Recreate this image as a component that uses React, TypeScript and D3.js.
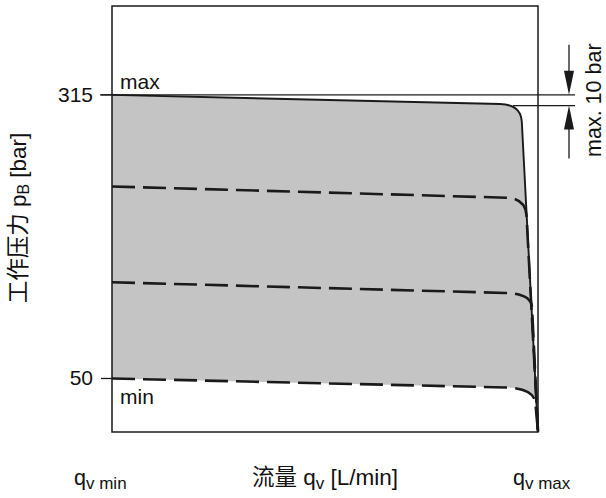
import React from "react";
import * as d3 from "d3";

// Pump characteristic: working pressure vs. flow, with the pressure-setting range
const WIDTH = 606;
const HEIGHT = 498;

// Flow axis runs from q_v min (0) to q_v max (100), pressure in bar
const flowDomain = [0, 100];
const pressureDomain = [0, 398];

const tickValues = [315, 50];
const tickLabels = ["315", "50"];

// Characteristic curves: top (max) setting, two intermediate settings, bottom (min) setting
const curveNames = ["max", "mid-high", "mid-low", "min"];
const curveDashed = [false, true, true, true];
const startPressure = [315, 229.4, 139.9, 50];
const kneeStartFlow = [91.1, 92.5, 92.3, 92.5];
const kneeStartPressure = [306.4, 218.9, 129.9, 41.6];
const cornerFlow = [96.0, 97.0, 98.4, 99.2];
const cornerPressure = [305.9, 218.4, 129.3, 40.8];
const kneeEndFlow = [96.2, 97.3, 98.6, 99.4];
const kneeEndPressure = [289.6, 202.5, 116.5, 26.5];
const endFlow = 100;
const endPressure = 0;

// Pressure drop annotation
const dropTop = 315;
const dropAmount = 10;
const dropLabel = "max. 10 bar";

const FONT = "'Liberation Sans', Arial, Helvetica, 'Noto Sans CJK SC', sans-serif";

export default function App() {
  const margin = { left: 112, right: 68, top: 6, bottom: 66 };
  const x = d3.scaleLinear().domain(flowDomain).range([margin.left, WIDTH - margin.right]);
  const y = d3.scaleLinear().domain(pressureDomain).range([HEIGHT - margin.bottom, margin.top]);

  const x0 = x(flowDomain[0]);
  const x1 = x(flowDomain[1]);
  const yTop = y(pressureDomain[1]);
  const yBot = y(pressureDomain[0]);

  const curvePath = (i: number) => {
    const p = d3.path();
    p.moveTo(x(0), y(startPressure[i]));
    p.lineTo(x(kneeStartFlow[i]), y(kneeStartPressure[i]));
    p.quadraticCurveTo(x(cornerFlow[i]), y(cornerPressure[i]), x(kneeEndFlow[i]), y(kneeEndPressure[i]));
    p.lineTo(x(endFlow), y(endPressure));
    return p.toString();
  };

  // Operating area between the max and min curves
  const areaPath = (() => {
    const top = 0;
    const bot = curveNames.length - 1;
    const p = d3.path();
    p.moveTo(x(0), y(startPressure[top]));
    p.lineTo(x(kneeStartFlow[top]), y(kneeStartPressure[top]));
    p.quadraticCurveTo(x(cornerFlow[top]), y(cornerPressure[top]), x(kneeEndFlow[top]), y(kneeEndPressure[top]));
    p.lineTo(x(endFlow), y(endPressure));
    p.lineTo(x(kneeEndFlow[bot]), y(kneeEndPressure[bot]));
    p.quadraticCurveTo(x(cornerFlow[bot]), y(cornerPressure[bot]), x(kneeStartFlow[bot]), y(kneeStartPressure[bot]));
    p.lineTo(x(0), y(startPressure[bot]));
    p.closePath();
    return p.toString();
  })();

  const yDropTop = y(dropTop);
  const yDropBot = y(dropTop - dropAmount);
  const arrowX = 569;
  const refEnd = 575;
  const headLen = 24;
  const headHalf = 5;

  const ink = "#1a1a1a";

  return (
    <svg
      width={WIDTH}
      height={HEIGHT}
      style={{ position: "absolute", left: 0, top: 0, background: "#fff" }}
      fontFamily={FONT}
    >
      <path d={areaPath} fill="#c4c4c4" stroke="none" />

      {/* reference lines for the pressure drop */}
      <line x1={x0 - 12} x2={refEnd} y1={yDropTop} y2={yDropTop} stroke={ink} strokeWidth={1.3} />
      <line x1={x(kneeStartFlow[0]) + 13} x2={refEnd} y1={yDropBot} y2={yDropBot} stroke={ink} strokeWidth={1.3} />

      {curveNames.map((name, i) => (
        <path
          key={name}
          d={curvePath(i)}
          fill="none"
          stroke={ink}
          strokeWidth={curveDashed[i] ? 2.6 : 1.9}
          strokeDasharray={curveDashed[i] ? "23 8" : undefined}
          strokeLinejoin="round"
        />
      ))}

      <rect x={x0} y={yTop} width={x1 - x0} height={yBot - yTop} fill="none" stroke={ink} strokeWidth={1.5} />

      {/* pressure ticks */}
      {tickValues.map((v, i) => (
        <g key={v}>
          <line x1={x0 - 11} x2={x0} y1={y(v)} y2={y(v)} stroke={ink} strokeWidth={1.3} />
          <text x={x0 - 19} y={y(v) + 7} textAnchor="end" fontSize={21} fill="#111">
            {tickLabels[i]}
          </text>
        </g>
      ))}

      <text x={x0 + 8} y={y(startPressure[0]) - 6} fontSize={21} fill="#111">max</text>
      <text x={x0 + 8} y={y(startPressure[curveNames.length - 1]) + 26} fontSize={21} fill="#111">min</text>

      {/* double arrow marking the pressure drop */}
      <line x1={arrowX} x2={arrowX} y1={yDropTop - 50} y2={yDropTop - headLen + 2} stroke={ink} strokeWidth={1.3} />
      <path
        d={`M${arrowX - headHalf},${yDropTop - headLen}L${arrowX + headHalf},${yDropTop - headLen}L${arrowX},${yDropTop}Z`}
        fill={ink}
      />
      <line x1={arrowX} x2={arrowX} y1={yDropBot + headLen - 2} y2={yDropBot + 53} stroke={ink} strokeWidth={1.3} />
      <path
        d={`M${arrowX - headHalf},${yDropBot + headLen}L${arrowX + headHalf},${yDropBot + headLen}L${arrowX},${yDropBot}Z`}
        fill={ink}
      />
      <text
        transform={`translate(601, ${(yDropTop + yDropBot) / 2}) rotate(-90)`}
        textAnchor="middle"
        fontSize={21.5}
        fill="#111"
      >
        {dropLabel}
      </text>

      {/* axis titles */}
      <text transform={`translate(26, 218) rotate(-90)`} textAnchor="middle" fontSize={22.5} fill="#111">
        工作压力 p<tspan fontSize={16} dy={3}>B</tspan>
        <tspan dy={-3}> [bar]</tspan>
      </text>

      <text x={(x0 + x1) / 2} y={485} textAnchor="middle" fontSize={22.5} fill="#111">
        流量 q<tspan fontSize={17} dy={4}>v</tspan>
        <tspan dy={-4}> [L/min]</tspan>
      </text>

      <text x={x0 - 38} y={485} fontSize={21.5} fill="#111">
        q<tspan fontSize={17} dy={4}>v min</tspan>
      </text>
      <text x={x1 - 25} y={485} fontSize={21.5} fill="#111">
        q<tspan fontSize={17} dy={4}>v max</tspan>
      </text>
    </svg>
  );
}
